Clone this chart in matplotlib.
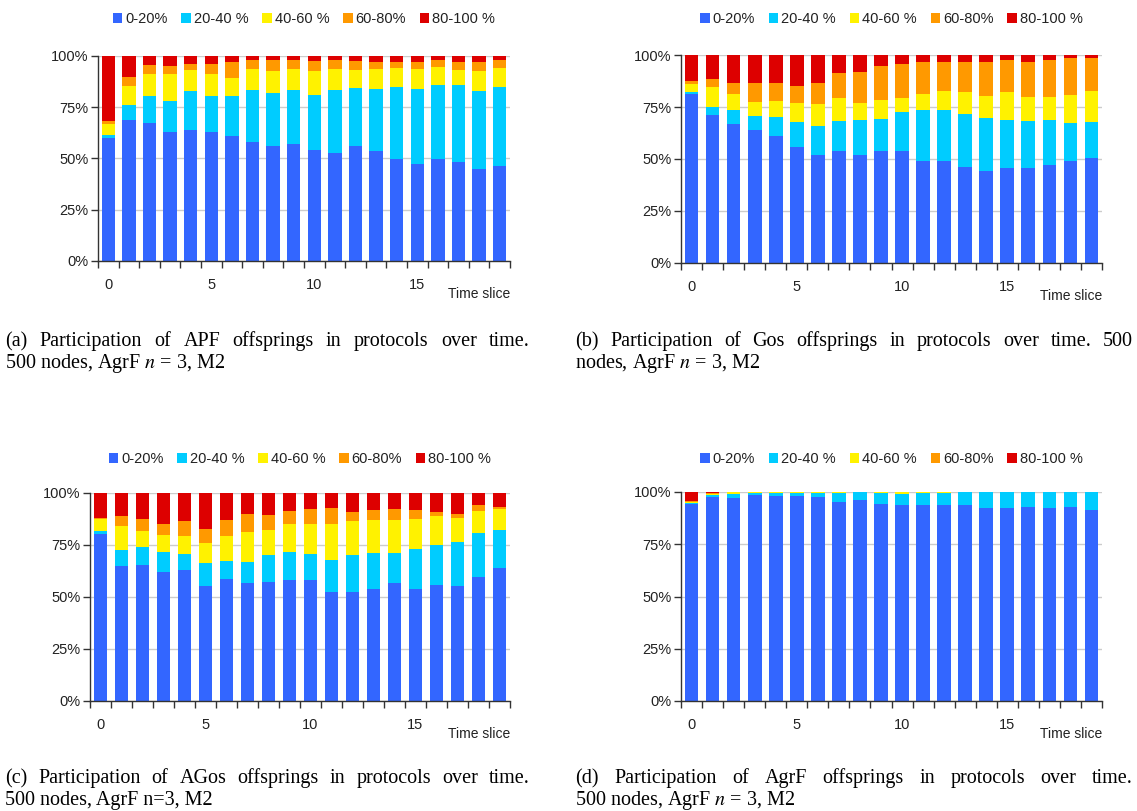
import matplotlib
matplotlib.use("Agg")
import matplotlib.pyplot as plt
from matplotlib.patches import Patch
from matplotlib.ticker import FixedLocator, PercentFormatter
import numpy as np

plt.rcParams['font.family'] = ['Liberation Sans', 'DejaVu Sans']
plt.rcParams['mathtext.fontset'] = 'stix'

time_slices = np.arange(20)
bands = ['0-20%', '20-40 %', '40-60 %', '60-80%', '80-100 %']
band_colors = ['#3366ff', '#00ccff', '#fff200', '#ff9900', '#dd0000']

# cumulative shares (%) at the top of each of the lower four bands; the red band fills to 100
apf_cum = [
    [60.0, 68.8, 67.5, 63.1, 64.1, 62.7, 61.2, 58.0, 56.3, 57.3, 54.1, 52.6, 56.0, 53.6, 49.8, 47.4, 49.8, 48.4, 44.8, 46.4],
    [61.5, 76.1, 80.5, 78.1, 83.0, 80.5, 80.5, 83.4, 82.1, 83.4, 81.2, 83.4, 84.4, 83.9, 84.9, 83.9, 85.9, 85.9, 83.0, 84.9],
    [67.0, 85.4, 91.2, 91.2, 93.0, 91.2, 89.3, 93.5, 92.5, 93.5, 92.5, 93.5, 93.0, 93.5, 94.0, 93.5, 94.6, 93.0, 92.5, 94.0],
    [68.5, 89.6, 95.5, 95.0, 95.9, 95.9, 97.1, 98.0, 98.0, 98.0, 97.7, 98.0, 97.7, 97.2, 97.2, 96.9, 98.0, 97.2, 97.2, 98.0],
]
gos_cum = [
    [81.2, 71.2, 67.0, 64.1, 61.2, 55.9, 51.8, 53.7, 51.8, 53.7, 54.0, 48.9, 48.9, 46.0, 44.1, 45.5, 45.5, 47.1, 48.9, 50.3],
    [82.2, 75.0, 73.6, 70.7, 70.2, 67.8, 66.0, 68.3, 68.8, 69.2, 72.6, 73.6, 73.6, 71.6, 69.7, 68.8, 68.4, 68.8, 67.5, 67.8],
    [86.2, 84.6, 81.2, 77.4, 77.9, 76.9, 76.4, 79.3, 76.9, 78.4, 79.3, 81.2, 82.9, 82.2, 80.1, 82.2, 79.8, 79.8, 80.8, 82.5],
    [87.3, 88.3, 86.4, 86.4, 86.4, 84.9, 86.4, 91.2, 91.7, 94.6, 95.5, 96.5, 96.8, 96.5, 96.5, 97.4, 96.5, 97.4, 98.4, 98.4],
]
agos_cum = [
    [80.3, 65.0, 65.4, 62.1, 63.2, 55.5, 58.7, 56.5, 57.0, 58.4, 58.4, 52.2, 52.2, 53.8, 56.5, 53.8, 56.0, 55.5, 59.4, 64.0],
    [81.8, 72.6, 74.0, 71.7, 70.7, 66.4, 67.4, 67.0, 70.2, 71.7, 70.7, 67.8, 70.2, 71.2, 71.2, 73.1, 75.0, 76.5, 80.8, 82.1],
    [87.5, 84.0, 81.6, 79.8, 79.2, 76.0, 79.2, 81.1, 82.1, 85.0, 85.3, 85.3, 86.4, 87.2, 87.2, 87.7, 88.8, 87.8, 91.5, 92.5],
    [88.2, 88.8, 87.7, 85.3, 86.4, 82.6, 86.9, 89.8, 89.3, 91.5, 92.3, 93.0, 91.0, 92.0, 92.3, 92.0, 91.0, 89.8, 94.1, 93.4],
]
agrf_cum = [
    [94.3, 97.6, 97.1, 98.4, 98.1, 98.1, 97.6, 95.4, 96.2, 94.4, 93.6, 93.9, 93.6, 93.9, 92.5, 92.5, 92.8, 92.5, 93.0, 91.6],
    [94.5, 98.4, 99.2, 99.4, 99.4, 99.4, 99.4, 99.7, 100.0, 99.5, 99.2, 99.5, 99.5, 100.0, 100.0, 100.0, 100.0, 100.0, 100.0, 100.0],
    [95.2, 99.0, 99.8, 99.8, 99.8, 99.8, 99.8, 100.0, 100.0, 100.0, 100.0, 100.0, 100.0, 100.0, 100.0, 100.0, 100.0, 100.0, 100.0, 100.0],
    [95.5, 99.5, 100.0, 100.0, 100.0, 100.0, 100.0, 100.0, 100.0, 100.0, 100.0, 100.0, 100.0, 100.0, 100.0, 100.0, 100.0, 100.0, 100.0, 100.0],
]

captions = [
    ("(a) Participation of APF offsprings in protocols over time.", "500 nodes, AgrF $n$ = 3, M2"),
    ("(b) Participation of Gos offsprings in protocols over time. 500", "nodes, AgrF $n$ = 3, M2"),
    ("(c) Participation of AGos offsprings in protocols over time.", "500 nodes, AgrF n=3, M2"),
    ("(d) Participation of AgrF offsprings in protocols over time.", "500 nodes, AgrF $n$ = 3, M2"),
]

W, H = 1137, 811
fig = plt.figure(figsize=(W / 100, H / 100), dpi=100)


def px_axes(x0, y0, x1, y1):
    # axes placed by pixel box (top-left origin)
    return fig.add_axes([x0 / W, 1 - y1 / H, (x1 - x0) / W, (y1 - y0) / H])


def draw_panel(ax, cum, legend_gap):
    tops = [np.array(c) for c in cum] + [np.full(len(time_slices), 100.0)]
    bottom = np.zeros(len(time_slices))
    for top, color in zip(tops, band_colors):
        ax.bar(time_slices, top - bottom, bottom=bottom, width=0.65,
               color=color, linewidth=0, zorder=2)
        bottom = top
    ax.set_xlim(-0.5, 19.5)
    ax.set_ylim(0, 100)
    ax.set_yticks([0, 25, 50, 75, 100])
    ax.yaxis.set_major_formatter(PercentFormatter(decimals=0))
    ax.grid(axis='y', color='#cccccc', linewidth=1, zorder=0)
    ax.set_xticks([0, 5, 10, 15])
    ax.xaxis.set_minor_locator(FixedLocator(np.arange(-0.5, 20, 1)))
    ax.tick_params(axis='x', which='major', length=0, pad=12,
                   labelsize=10.5, labelcolor='#222222')
    ax.tick_params(axis='x', which='minor', length=5, width=1, color='#333333')
    ax.tick_params(axis='y', length=5, width=1, color='#333333', pad=2,
                   labelsize=10.5, labelcolor='#222222')
    for s in ('top', 'right'):
        ax.spines[s].set_visible(False)
    for s in ('left', 'bottom'):
        ax.spines[s].set_color('#333333')
        ax.spines[s].set_linewidth(1)
    ax.text(1.0, -0.16, 'Time slice', transform=ax.transAxes, ha='right',
            va='center', fontsize=10, color='#222222')
    handles = [Patch(facecolor=c, edgecolor='none') for c in band_colors]
    ax.legend(handles, bands, loc='lower center',
              bbox_to_anchor=(0.5, 1 + legend_gap / ax.bbox.height),
              ncol=5, frameon=False, fontsize=10.5, handlelength=0.65,
              handleheight=0.65, handletextpad=0.2, columnspacing=0.95,
              borderaxespad=0, borderpad=0, labelcolor='#222222')


boxes = [(98, 56, 510, 261), (681, 55, 1102, 263),
         (90, 493, 510, 701), (681, 492, 1102, 701)]
legend_gaps = [30, 29, 27, 26]
data = [apf_cum, gos_cum, agos_cum, agrf_cum]
for box, cum, gap in zip(boxes, data, legend_gaps):
    draw_panel(px_axes(*box), cum, gap)

# captions: first line justified across the column, second line left-aligned
renderer = fig.canvas.get_renderer()
cap_font = dict(family='Liberation Serif', fontsize=14.5, color='black')


def justified_line(text, x0, x1, y):
    words = text.split(' ')
    arts = [fig.text(0, 1 - y / H, w, va='baseline', **cap_font) for w in words]
    widths = [a.get_window_extent(renderer).width for a in arts]
    gap = (x1 - x0 - sum(widths)) / (len(words) - 1)
    x = x0
    for a, w in zip(arts, widths):
        a.set_x(x / W)
        x += w + gap


cap_pos = [(5, 530, 346), (575, 1133, 346), (5, 530, 783), (575, 1133, 783)]
for (line1, line2), (x0, x1, y) in zip(captions, cap_pos):
    justified_line(line1, x0, x1, y)
    fig.text(x0 / W, 1 - (y + 22) / H, line2, va='baseline', **cap_font)

fig.savefig('out.png', dpi=100)
